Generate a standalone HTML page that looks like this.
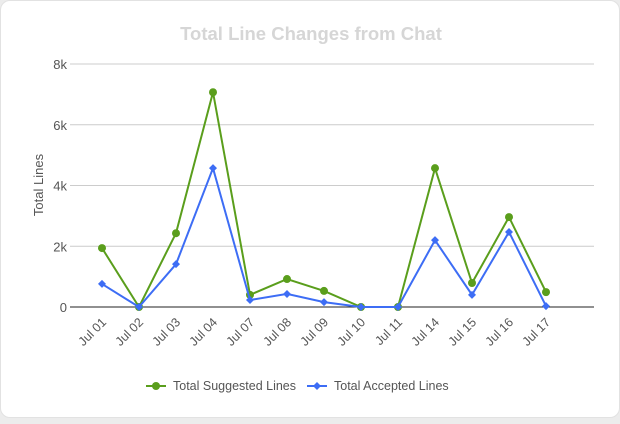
<!DOCTYPE html>
<html><head><meta charset="utf-8"><style>
body{margin:0;background:#ececec;font-family:"Liberation Sans",sans-serif;}
#card{position:absolute;left:0;top:0;width:618px;height:416px;background:#fff;border:1px solid #e2e2e2;border-radius:10px;}
</style></head><body>
<div id="card">
<svg id="chart" width="620" height="418"></svg>
</div>
<script>
const categories=["Jul 01","Jul 02","Jul 03","Jul 04","Jul 07","Jul 08","Jul 09","Jul 10","Jul 11","Jul 14","Jul 15","Jul 16","Jul 17"];
const suggested=[1940,0,2430,7070,400,920,530,0,0,4570,790,2960,490];
const accepted=[760,0,1410,4570,230,430,160,0,0,2200,400,2470,30];
const yTicks=[0,2000,4000,6000,8000];
const yTickLabels=["0","2k","4k","6k","8k"];
const NS="http://www.w3.org/2000/svg";
const svg=document.getElementById('chart');
const x0=101,dx=37,yBase=306,yTop=63,yMax=8000;
const X=i=>x0+i*dx;
const Y=v=>yBase-(v/yMax)*(yBase-yTop);
function mk(t,a){const e=document.createElementNS(NS,t);for(const k in a)e.setAttribute(k,a[k]);svg.appendChild(e);return e;}
let t=mk('text',{x:310,y:39,'text-anchor':'middle','font-size':18.5,'font-weight':'bold',fill:'#d6d6d6'});t.textContent="Total Line Changes from Chat";


yTicks.forEach((v,i)=>{
 const l=mk('line',{x1:69,x2:593,y1:Y(v),y2:Y(v),stroke:v===0?'#222':'#ccc','stroke-width':1});
 
 
 const tx=mk('text',{x:66,y:Y(v)+5,'text-anchor':'end','font-size':13,fill:'#555'});tx.textContent=yTickLabels[i];
 
 
});
let yt=mk('text',{x:42,y:184,'text-anchor':'middle','font-size':13,fill:'#555',transform:'rotate(-90 42 184)'});yt.textContent="Total Lines";


categories.forEach((c,i)=>{
 const x=X(i)+5,y=322;
 const tx=mk('text',{x:x,y:y,'text-anchor':'end','font-size':12.5,fill:'#555',transform:`rotate(-45 ${x} ${y})`});tx.textContent=c;
 
 
});
function series(vals,color,diamond,name){
 const p=mk('polyline',{points:vals.map((v,i)=>X(i)+','+Y(v)).join(' '),fill:'none',stroke:color,'stroke-width':2});
 
 
 vals.forEach((v,i)=>{
  let m;
  if(diamond){const x=X(i),y=Y(v);m=mk('polygon',{points:`${x},${y-4} ${x+4},${y} ${x},${y+4} ${x-4},${y}`,fill:color});}
  else m=mk('circle',{cx:X(i),cy:Y(v),r:4,fill:color});
  
  
 });
}
series(suggested,'#5a9e1c',false,'suggested');
series(accepted,'#3d6df5',true,'accepted');
function legend(x,color,diamond,label,name){
 const g=document.createElementNS(NS,'g');svg.appendChild(g);
 
 
 const l=document.createElementNS(NS,'line');l.setAttribute('x1',x);l.setAttribute('x2',x+20);l.setAttribute('y1',385);l.setAttribute('y2',385);l.setAttribute('stroke',color);l.setAttribute('stroke-width',2);g.appendChild(l);
 let m;
 if(diamond){m=document.createElementNS(NS,'polygon');m.setAttribute('points',`${x+10},381 ${x+14},385 ${x+10},389 ${x+6},385`);}
 else{m=document.createElementNS(NS,'circle');m.setAttribute('cx',x+10);m.setAttribute('cy',385);m.setAttribute('r',4);}
 m.setAttribute('fill',color);g.appendChild(m);
 const tx=document.createElementNS(NS,'text');tx.setAttribute('x',x+27);tx.setAttribute('y',389);tx.setAttribute('font-size',12.5);tx.setAttribute('fill','#555');tx.textContent=label;g.appendChild(tx);
}
legend(145,'#5a9e1c',false,'Total Suggested Lines','legend-suggested');
legend(306,'#3d6df5',true,'Total Accepted Lines','legend-accepted');
</script>
</body></html>
